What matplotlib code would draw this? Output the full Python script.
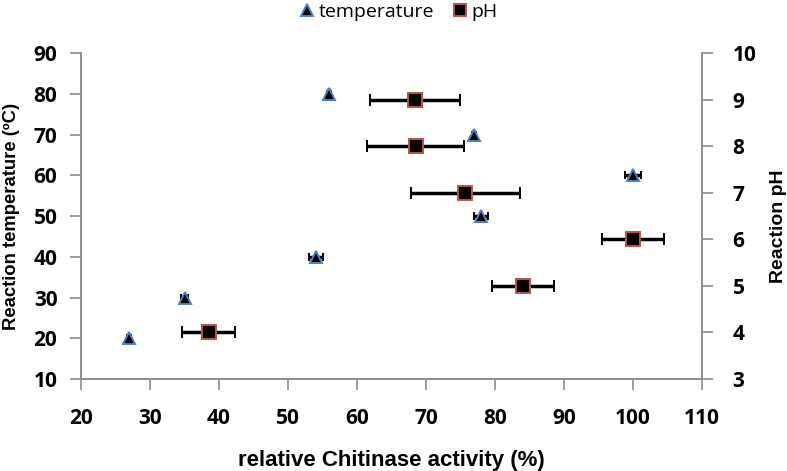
import matplotlib
matplotlib.use('Agg')
import matplotlib.pyplot as plt
from matplotlib.lines import Line2D

# 温度数据
temp_activity = [27, 35, 54, 78, 100, 77, 56]
temp_err = [0.3, 0.5, 1.0, 1.0, 1.2, 0.3, 0.3]
temperature = [20, 30, 40, 50, 60, 70, 80]

# pH 数据
ph_activity = [38.5, 84.0, 100.0, 75.7, 68.5, 68.4]
ph_err = [3.8, 4.5, 4.5, 7.9, 7.0, 6.5]
ph = [4, 5, 6, 7, 8, 9]

x_ticks = [20, 30, 40, 50, 60, 70, 80, 90, 100, 110]
temp_ticks = [10, 20, 30, 40, 50, 60, 70, 80, 90]
ph_ticks = [3, 4, 5, 6, 7, 8, 9, 10]

plt.rcParams['font.family'] = ['Open Sans', 'DejaVu Sans']
plt.rcParams['font.weight'] = 'bold'

spine_color = '#8c8c8c'

fig = plt.figure(figsize=(7.87, 4.71), dpi=100)
ax = fig.add_axes([81 / 787, 1 - 379 / 471, 621 / 787, 326 / 471])
ax2 = ax.twinx()

ax.errorbar(temp_activity, temperature, xerr=temp_err, fmt='^', ms=8,
            mfc='black', mec='#4f81bd', mew=1.4, ecolor='black',
            elinewidth=2.5, capsize=3, capthick=2.5, zorder=3)
ax2.errorbar(ph_activity, ph, xerr=ph_err, fmt='s', ms=9.5,
             mfc='black', mec='#c0504d', mew=1.4, ecolor='black',
             elinewidth=2.5, capsize=4, capthick=2.5, zorder=3)

ax.set_xlim(20, 110)
ax.set_ylim(10, 90)
ax2.set_ylim(3, 10)
ax.set_xticks(x_ticks, [str(v) for v in x_ticks], fontweight='bold')
ax.set_yticks(temp_ticks, [str(v) for v in temp_ticks], fontweight='bold')
ax2.set_yticks(ph_ticks, [str(v) for v in ph_ticks], fontweight='bold')

for a in (ax, ax2):
    a.spines['top'].set_visible(False)
    for s in ('left', 'right', 'bottom'):
        a.spines[s].set_color(spine_color)
        a.spines[s].set_linewidth(1.2)
    a.tick_params(colors=spine_color, length=8, width=1.2, labelcolor='black',
                  labelsize=15)

ax.tick_params(axis='x', pad=13)
ax.tick_params(axis='y', pad=9)
ax2.tick_params(axis='y', pad=14)

ax.set_xlabel('relative Chitinase activity (%)', family='Liberation Sans',
              weight='bold', size=16)
ax.set_ylabel('Reaction temperature (ºC)', family='Liberation Sans',
              weight='bold', size=13.3)
ax2.set_ylabel('Reaction pH', family='Liberation Sans',
               weight='bold', size=14)
ax.xaxis.set_label_coords(0.5, -0.218)
ax.yaxis.set_label_coords(-0.098, 0.5)
ax2.yaxis.set_label_coords(1.109, 0.47)

handles = [
    Line2D([], [], ls='none', marker='^', ms=8, mfc='black', mec='#4f81bd', mew=1.4),
    Line2D([], [], ls='none', marker='s', ms=9, mfc='black', mec='#c0504d', mew=1.4),
]
fig.legend(handles, ['temperature', 'pH'], loc='center', bbox_to_anchor=(0.505, 1 - 12 / 471),
           ncol=2, frameon=False, prop={'family': 'Open Sans', 'size': 14, 'weight': 'normal'},
           handletextpad=0.1, columnspacing=0.8, handlelength=1)

plt.savefig('out.png', dpi=100)
plt.close()
